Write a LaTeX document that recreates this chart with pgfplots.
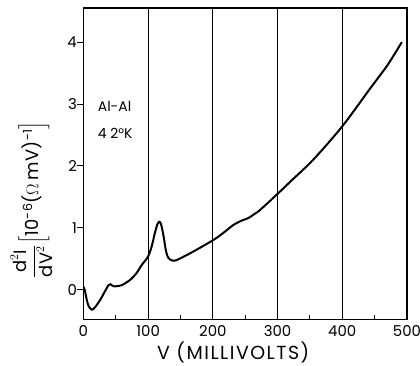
\documentclass[border=0pt]{standalone}
\usepackage{pgfplots}
\pgfplotsset{compat=1.18}
\usepackage{amsmath}
\usepackage{fontspec}
\setmainfont{Poppins}
\begin{document}
\begin{tikzpicture}
\begin{axis}[
  scale only axis,
  width=324bp, height=312bp,
  xmin=0, xmax=500, ymin=-0.48, ymax=4.55,
  axis line style={line width=1.1bp},
  xtick={0,100,200,300,400,500},
  minor xtick={50,150,250,350,450},
  ytick={0,1,2,3,4},
  xtick pos=bottom, ytick pos=left,
  xtick align=inside, ytick align=outside,
  major tick length=6bp, minor tick length=5bp,
  tick style={black, line width=1bp},
  xmajorgrids,
  grid style={black, line width=1.1bp},
  /pgf/number format/assume math mode=true,
  ticklabel style={font=\fontsize{15}{17}\selectfont},
  xticklabel style={yshift=-2bp},
  yticklabel style={xshift=3bp},
  xlabel={V (MILLIVOLTS)},
  xlabel style={font=\fontsize{19}{21}\selectfont\addfontfeature{LetterSpace=8}, at={(axis description cs:0.463,-0.105)}, anchor=center},
  ylabel={$\dfrac{\mbox{d}^{2}\mbox{I}}{\mbox{dV}^{2}}\Bigl[$10\textsuperscript{-6}($\Omega$\,mV)\textsuperscript{-1}$\Bigr]$},
  ylabel style={font=\fontsize{18}{20}\selectfont\addfontfeature{LetterSpace=3}, at={(axis description cs:-0.16,0.385)}, anchor=center},
]
\addplot[black, line width=2bp, smooth, tension=0.5] coordinates {
(0,0.05) (2,0.0) (5,-0.15) (8,-0.26) (13,-0.32) (18,-0.28) (26,-0.16) (34,-0.01)
(39,0.08) (42,0.09) (46,0.06) (52,0.06) (60,0.08) (72,0.16) (82,0.27) (90,0.40)
(100,0.54) (106,0.72) (110,0.90) (114,1.05) (117,1.10) (120,1.06) (124,0.86)
(127,0.66) (130,0.54) (134,0.49) (140,0.47) (148,0.50) (170,0.62) (200,0.80)
(215,0.91) (232,1.05) (245,1.12) (255,1.16) (265,1.23) (273,1.29) (300,1.55)
(320,1.75) (355,2.10) (400,2.64) (443,3.25) (470,3.63) (492,4.0)
};
\node[anchor=west, font=\fontsize{14}{16}\selectfont] at (axis cs:17,2.97) {Al-Al};
\node[anchor=west, font=\fontsize{14}{16}\selectfont] at (axis cs:17,2.52) {4 2°K};
\end{axis}
\pgfresetboundingbox
\path ([xshift=-83.5bp,yshift=-46bp]current axis.south west) rectangle ([xshift=13bp,yshift=8bp]current axis.north east);
\end{tikzpicture}
\end{document}
